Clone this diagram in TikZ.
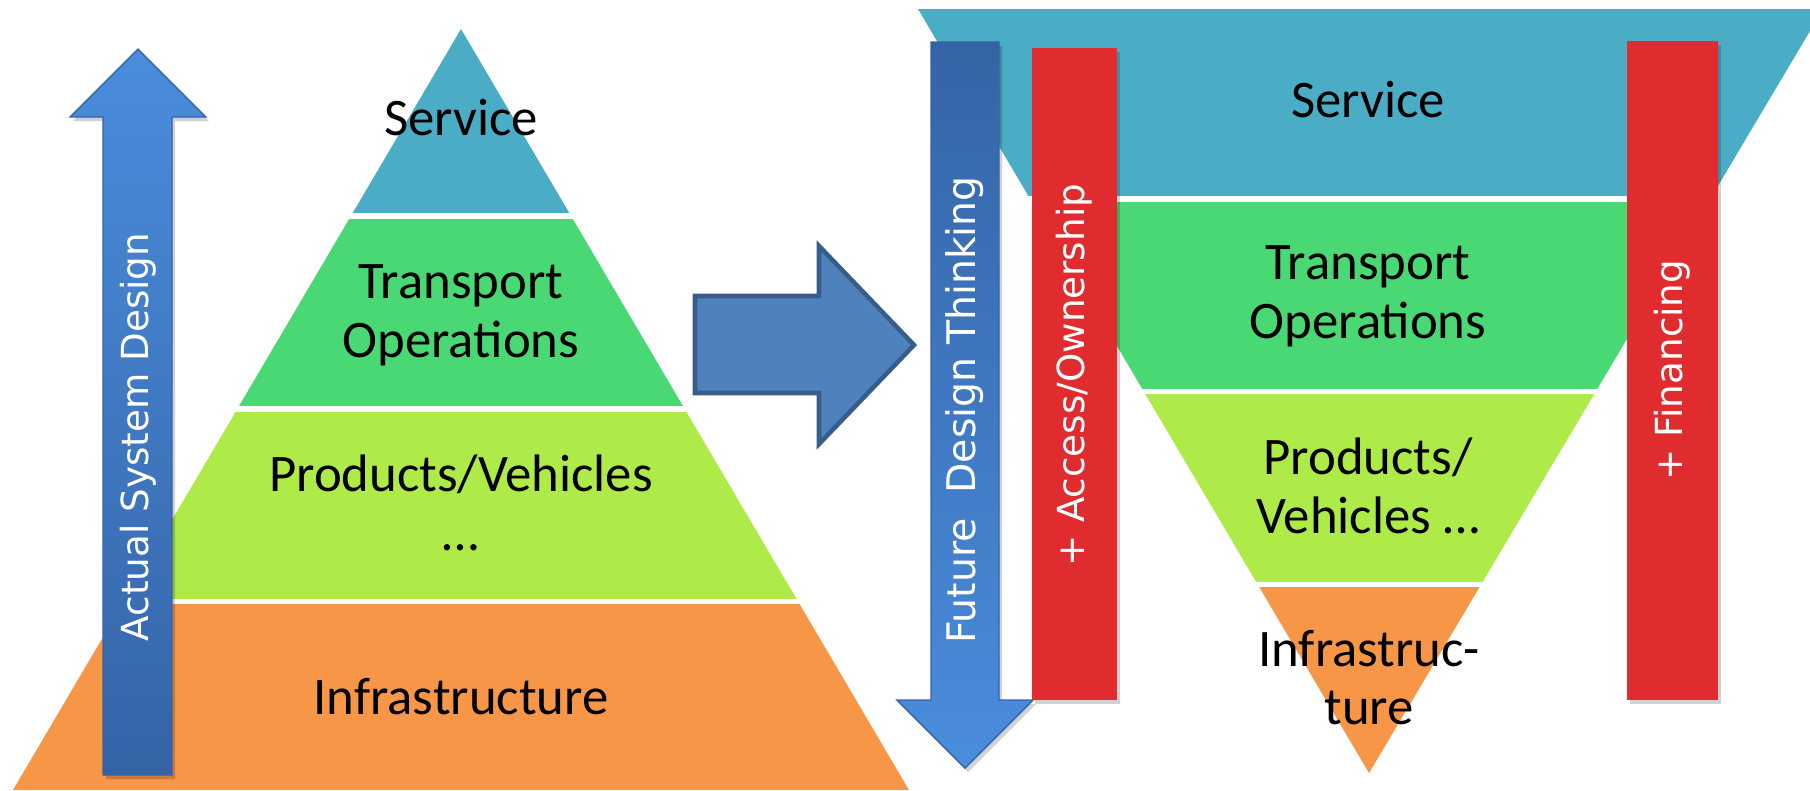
\documentclass[tikz,border=0pt]{standalone}
\usepackage{fontspec}
\setmainfont{Carlito}
\newfontfamily\barfont{DejaVu Sans}

\definecolor{svc}{HTML}{4BACC6}
\definecolor{ops}{HTML}{49D874}
\definecolor{veh}{HTML}{AEEA48}
\definecolor{infra}{HTML}{F79646}
\definecolor{barred}{HTML}{E02C2F}
\definecolor{arrowlight}{HTML}{4A8DDD}
\definecolor{arrowdark}{HTML}{3564A6}
\definecolor{bigarrow}{HTML}{4F81BD}
\definecolor{bigarrowline}{HTML}{385D8A}

\begin{document}
\begin{tikzpicture}[x=0.01cm,y=-0.01cm,line join=miter,
        layertext/.style={font=\fontsize{15}{16.5}\selectfont, align=center, anchor=base},
        bartext/.style={font=\barfont\fontsize{10.6}{13}\selectfont, text=white, rotate=90},
        shadowed/.style={fill=black, opacity=0.18}]
    \useasboundingbox (0,0) rectangle (1810,790);

    % actual system: pyramid
    \begin{scope}
        \clip (461,29) -- (909,790) -- (13,790) -- cycle;
        \fill[svc] (0,29) rectangle (1000,213);
        \fill[ops] (0,219) rectangle (1000,406);
        \fill[veh] (0,412) rectangle (1000,599);
        \fill[infra] (0,604) rectangle (1000,790);
    \end{scope}

    % future system: inverted pyramid
    \begin{scope}
        \clip (918,9) -- (1810,9) -- (1810,31) -- (1369,773) -- cycle;
        \fill[svc] (900,9) rectangle (1810,196);
        \fill[ops] (900,202) rectangle (1810,389);
        \fill[veh] (900,394) rectangle (1810,582);
        \fill[infra] (900,587) rectangle (1810,773);
    \end{scope}

    % up arrow
    \fill[shadowed,shift={(3,4)}] (103,775) -- (103,117) -- (70,117) -- (138,49)
        -- (206,117) -- (172,117) -- (172,775) -- cycle;
    \shadedraw[top color=arrowlight,bottom color=arrowdark,draw=arrowdark,line width=0.4pt]
        (103,775) -- (103,117) -- (70,117) -- (138,49)
        -- (206,117) -- (172,117) -- (172,775) -- cycle;

    % down arrow
    \fill[shadowed,shift={(3,4)}] (931,42) -- (999,42) -- (999,700) -- (1033,700)
        -- (965,768) -- (897,700) -- (931,700) -- cycle;
    \shadedraw[top color=arrowdark,bottom color=arrowlight,draw=arrowdark,line width=0.4pt]
        (931,42) -- (999,42) -- (999,700) -- (1033,700)
        -- (965,768) -- (897,700) -- (931,700) -- cycle;

    % red bars
    \fill[shadowed] (1035,52) rectangle (1120,704);
    \fill[barred] (1032,48) rectangle (1117,700);
    \fill[shadowed] (1630,45) rectangle (1721,704);
    \fill[barred] (1627,41) rectangle (1718,700);

    % big arrow in the middle
    \filldraw[fill=bigarrow,draw=bigarrowline,line width=1.3pt]
        (695,296) -- (819,296) -- (819,246) -- (914,345)
        -- (819,444) -- (819,393) -- (695,393) -- cycle;

    % base of a two-line label is its last line
    \node[layertext] (svcL) at (461,135) {Service};
    \node[layertext] (opsL) at (461,357) {Transport\\Operations};
    \node[layertext] (vehL) at (461,550) {Products/Vehicles\\…};
    \node[layertext] (infraL) at (461,714) {Infrastructure};

    \node[layertext] (svcR) at (1368,117) {Service};
    \node[layertext] (opsR) at (1368,338) {Transport\\Operations};
    \node[layertext] (vehR) at (1368,533) {Products/\\Vehicles …};
    \node[layertext] (infraR) at (1369,724) {Infrastruc-\\ture};

    \node[bartext] (actual) at (138,437) {Actual System Design};
    \node[bartext,font=\barfont\fontsize{11.2}{13}\selectfont] (future) at (965,410) {Future\ \ Design Thinking};
    \node[bartext] (access) at (1074,375) {+ Access/Ownership};
    \node[bartext] (financing) at (1672,370) {+ Financing};
\end{tikzpicture}
\end{document}
